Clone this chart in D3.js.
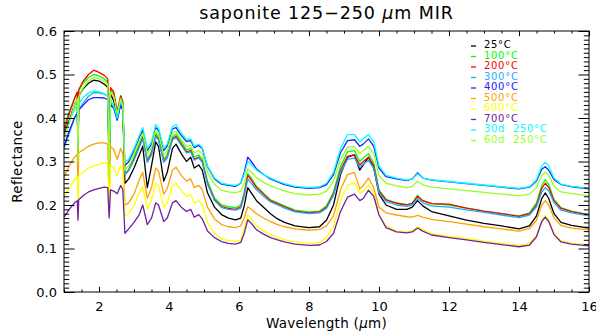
<!DOCTYPE html>
<html><head><meta charset="utf-8">
<script src="https://cdn.jsdelivr.net/npm/d3@7"></script>
<style>
html,body{margin:0;padding:0;background:#fff;}
svg{display:block;}
text{font-family:"DejaVu Sans",sans-serif;}
</style></head>
<body>
<svg id="chart" width="596" height="335"></svg>
<script>
// ---- data ----
const wavelength = [1.00,1.15,1.30,1.38,1.40,1.42,1.55,1.70,1.85,2.00,2.15,2.25,2.29,2.33,2.42,2.52,2.62,2.68,2.74,2.85,3.00,3.15,3.25,3.38,3.50,3.62,3.70,3.85,3.95,4.10,4.20,4.35,4.50,4.62,4.72,4.85,4.95,5.10,5.30,5.50,5.70,5.90,6.05,6.15,6.25,6.35,6.50,6.70,6.90,7.10,7.30,7.60,8.00,8.30,8.50,8.70,8.90,9.10,9.30,9.45,9.55,9.70,9.85,10.00,10.20,10.50,10.80,10.95,11.10,11.25,11.50,12.00,12.50,13.00,13.50,14.00,14.30,14.50,14.65,14.75,14.85,15.00,15.20,15.50,16.00];

const r25 = [0.36,0.395,0.43,0.445,0.31,0.45,0.468,0.48,0.487,0.485,0.478,0.47,0.27,0.455,0.44,0.4,0.435,0.42,0.25,0.26,0.285,0.315,0.335,0.24,0.29,0.345,0.335,0.255,0.275,0.33,0.34,0.318,0.3,0.31,0.285,0.292,0.28,0.228,0.195,0.178,0.17,0.166,0.17,0.198,0.24,0.228,0.21,0.195,0.18,0.168,0.16,0.152,0.148,0.15,0.165,0.2,0.27,0.31,0.315,0.28,0.292,0.31,0.285,0.225,0.2,0.19,0.19,0.195,0.21,0.198,0.185,0.175,0.165,0.158,0.152,0.145,0.152,0.175,0.215,0.228,0.215,0.18,0.16,0.153,0.147];
const r100 = [0.38,0.415,0.445,0.458,0.30,0.463,0.48,0.493,0.5,0.497,0.49,0.483,0.24,0.465,0.455,0.41,0.452,0.44,0.27,0.282,0.31,0.34,0.36,0.305,0.322,0.365,0.357,0.305,0.316,0.357,0.363,0.345,0.327,0.33,0.31,0.315,0.305,0.255,0.216,0.2,0.196,0.194,0.2,0.228,0.272,0.262,0.243,0.227,0.212,0.205,0.198,0.188,0.184,0.186,0.198,0.23,0.288,0.322,0.325,0.3,0.308,0.318,0.296,0.235,0.213,0.205,0.201,0.205,0.222,0.21,0.203,0.2,0.193,0.186,0.18,0.175,0.182,0.205,0.245,0.258,0.247,0.213,0.194,0.186,0.178];
const r200 = [0.37,0.41,0.445,0.46,0.32,0.465,0.485,0.5,0.51,0.505,0.498,0.49,0.28,0.47,0.46,0.415,0.45,0.435,0.27,0.28,0.305,0.335,0.355,0.3,0.318,0.36,0.352,0.3,0.31,0.352,0.358,0.34,0.322,0.325,0.305,0.31,0.3,0.25,0.212,0.196,0.192,0.19,0.196,0.225,0.268,0.258,0.24,0.225,0.21,0.203,0.196,0.186,0.182,0.184,0.195,0.225,0.28,0.312,0.315,0.292,0.3,0.31,0.29,0.232,0.212,0.204,0.2,0.204,0.22,0.21,0.203,0.202,0.193,0.186,0.18,0.174,0.18,0.2,0.238,0.25,0.24,0.21,0.192,0.185,0.177];
const r300 = [0.33,0.365,0.4,0.413,0.33,0.418,0.435,0.45,0.458,0.458,0.455,0.45,0.32,0.438,0.428,0.395,0.435,0.42,0.27,0.28,0.303,0.333,0.352,0.298,0.315,0.357,0.35,0.298,0.308,0.35,0.355,0.337,0.32,0.322,0.303,0.308,0.298,0.248,0.21,0.194,0.19,0.188,0.193,0.22,0.26,0.25,0.235,0.22,0.207,0.2,0.193,0.184,0.18,0.182,0.192,0.222,0.275,0.305,0.308,0.287,0.294,0.303,0.284,0.228,0.208,0.2,0.197,0.2,0.215,0.205,0.198,0.195,0.189,0.183,0.177,0.171,0.177,0.196,0.23,0.24,0.232,0.205,0.188,0.182,0.175];
const r400 = [0.335,0.37,0.4,0.412,0.34,0.418,0.43,0.442,0.447,0.447,0.446,0.442,0.33,0.432,0.422,0.395,0.43,0.418,0.29,0.3,0.325,0.355,0.372,0.325,0.34,0.378,0.372,0.325,0.336,0.375,0.378,0.36,0.346,0.348,0.332,0.337,0.33,0.288,0.26,0.248,0.245,0.243,0.25,0.275,0.31,0.3,0.283,0.27,0.26,0.253,0.247,0.241,0.238,0.24,0.247,0.27,0.32,0.348,0.35,0.335,0.34,0.352,0.335,0.285,0.265,0.26,0.256,0.26,0.274,0.262,0.257,0.253,0.249,0.245,0.241,0.237,0.241,0.255,0.282,0.288,0.28,0.258,0.247,0.242,0.237];
const r500 = [0.264,0.29,0.31,0.316,0.24,0.32,0.327,0.335,0.34,0.343,0.343,0.34,0.22,0.334,0.328,0.305,0.33,0.318,0.2,0.205,0.225,0.258,0.275,0.215,0.24,0.285,0.278,0.225,0.238,0.28,0.287,0.268,0.255,0.26,0.24,0.245,0.235,0.195,0.168,0.155,0.15,0.148,0.152,0.17,0.196,0.19,0.18,0.17,0.162,0.155,0.15,0.145,0.142,0.144,0.152,0.175,0.235,0.27,0.275,0.237,0.245,0.262,0.24,0.195,0.182,0.177,0.173,0.172,0.176,0.172,0.167,0.162,0.156,0.15,0.145,0.14,0.146,0.165,0.2,0.21,0.2,0.17,0.153,0.147,0.143];
const r600 = [0.218,0.24,0.258,0.265,0.2,0.268,0.276,0.285,0.29,0.294,0.297,0.295,0.19,0.29,0.286,0.268,0.29,0.28,0.175,0.18,0.198,0.228,0.243,0.19,0.21,0.25,0.244,0.195,0.205,0.245,0.25,0.233,0.22,0.224,0.205,0.21,0.2,0.16,0.135,0.122,0.118,0.116,0.12,0.145,0.177,0.168,0.152,0.14,0.132,0.126,0.12,0.115,0.112,0.114,0.125,0.15,0.21,0.245,0.252,0.228,0.232,0.246,0.228,0.178,0.152,0.14,0.138,0.14,0.15,0.144,0.134,0.128,0.123,0.117,0.112,0.107,0.112,0.13,0.165,0.176,0.166,0.135,0.118,0.112,0.108];
const r700 = [0.172,0.19,0.205,0.21,0.165,0.212,0.222,0.23,0.235,0.238,0.241,0.24,0.17,0.235,0.232,0.226,0.245,0.235,0.135,0.145,0.16,0.178,0.2,0.155,0.17,0.205,0.2,0.162,0.17,0.205,0.21,0.195,0.185,0.19,0.172,0.178,0.168,0.14,0.125,0.116,0.112,0.11,0.114,0.135,0.166,0.158,0.143,0.133,0.125,0.12,0.115,0.11,0.107,0.108,0.116,0.135,0.185,0.218,0.225,0.21,0.215,0.234,0.22,0.177,0.148,0.138,0.136,0.138,0.147,0.14,0.131,0.125,0.12,0.114,0.109,0.104,0.108,0.127,0.162,0.172,0.162,0.132,0.115,0.11,0.106];
const r30d = [0.355,0.39,0.42,0.43,0.35,0.433,0.447,0.458,0.462,0.46,0.456,0.45,0.34,0.44,0.428,0.4,0.44,0.425,0.3,0.305,0.33,0.36,0.378,0.33,0.345,0.385,0.378,0.33,0.34,0.38,0.385,0.365,0.35,0.352,0.335,0.34,0.332,0.29,0.262,0.25,0.247,0.245,0.25,0.27,0.3,0.293,0.28,0.27,0.262,0.255,0.249,0.243,0.24,0.242,0.25,0.275,0.33,0.362,0.362,0.345,0.352,0.362,0.345,0.29,0.268,0.262,0.257,0.26,0.272,0.262,0.258,0.254,0.25,0.246,0.242,0.238,0.242,0.258,0.29,0.298,0.29,0.262,0.248,0.243,0.238];
const r60d = [0.35,0.39,0.43,0.445,0.30,0.45,0.47,0.485,0.493,0.49,0.485,0.478,0.26,0.46,0.45,0.41,0.445,0.43,0.28,0.29,0.318,0.347,0.365,0.318,0.332,0.372,0.365,0.315,0.325,0.365,0.37,0.35,0.335,0.337,0.32,0.325,0.317,0.275,0.247,0.234,0.23,0.228,0.232,0.25,0.283,0.276,0.263,0.252,0.244,0.238,0.232,0.226,0.223,0.225,0.232,0.255,0.305,0.333,0.335,0.318,0.325,0.335,0.318,0.268,0.25,0.244,0.24,0.243,0.255,0.246,0.241,0.237,0.233,0.229,0.225,0.221,0.225,0.24,0.268,0.276,0.268,0.243,0.23,0.226,0.221];

const seriesLabels = ["25°C","100°C","200°C","300°C","400°C","500°C","600°C","700°C","30d  250°C","60d  250°C"];
const seriesColors = ["#000000","#00ff00","#ff0000","#1eaaff","#2020ff","#ffa000","#ffff00","#7020a0","#00ffff","#99ff22"];
const xTickValues = [2,4,6,8,10,12,14,16];
const yTickValues = [0.0,0.1,0.2,0.3,0.4,0.5,0.6];
const titleText = "saponite 125\u2212250 ";
const xLabelText = "Wavelength (";
const yLabelText = "Reflectance";

// ---- drawing ----
const allSeries = [r25,r100,r200,r300,r400,r500,r600,r700,r30d,r60d];
const svg = d3.select("#chart");
const L = 64, R = 589, T = 31, B = 292;
const x = d3.scaleLinear().domain([1,16]).range([L,R]);
const y = d3.scaleLinear().domain([0,0.6]).range([B,T]);

const plot = svg.append("g");
plot.append("clipPath").attr("id","clip").append("rect")
  .attr("x",L).attr("y",T).attr("width",R-L).attr("height",B-T);

const line = d3.line().x((d,i)=>x(wavelength[i])).y(d=>y(d));
const lines = plot.append("g").attr("clip-path","url(#clip)");
allSeries.forEach((s,k)=>{
  lines.append("path").datum(s).attr("d",line)
    .attr("fill","none").attr("stroke",seriesColors[k])
    .attr("stroke-width",1.3).attr("stroke-linejoin","round");
});

// axes with inward ticks (major + minor) on all four sides
const xMajorLen = 5.2, xMinorLen = 2.6, yMajorLen = 10.5, yMinorLen = 5.2;
const xMinor = d3.range(1,16.001,0.5).filter(v=>!xTickValues.includes(v));
const yMinor = d3.range(0,0.6001,0.01).map(v=>+v.toFixed(2)).filter(v=>Math.abs(v*10-Math.round(v*10))>1e-6);

const axBottom = d3.axisBottom(x).tickValues(xTickValues).tickSize(-xMajorLen).tickFormat(d3.format("d")).tickPadding(10);
svg.append("g").attr("transform",`translate(0,${B})`).call(axBottom);
svg.append("g").attr("transform",`translate(0,${B})`).call(d3.axisBottom(x).tickValues(xMinor).tickSize(-xMinorLen).tickFormat(""));
svg.append("g").attr("transform",`translate(0,${T})`).call(d3.axisTop(x).tickValues(xTickValues).tickSize(-xMajorLen).tickFormat(""));
svg.append("g").attr("transform",`translate(0,${T})`).call(d3.axisTop(x).tickValues(xMinor).tickSize(-xMinorLen).tickFormat(""));

const axLeft = d3.axisLeft(y).tickValues(yTickValues).tickSize(-yMajorLen).tickFormat(d3.format(".1f")).tickPadding(7);
svg.append("g").attr("transform",`translate(${L},0)`).call(axLeft);
svg.append("g").attr("transform",`translate(${L},0)`).call(d3.axisLeft(y).tickValues(yMinor).tickSize(-yMinorLen).tickFormat(""));
svg.append("g").attr("transform",`translate(${R},0)`).call(d3.axisRight(y).tickValues(yTickValues).tickSize(-yMajorLen).tickFormat(""));
svg.append("g").attr("transform",`translate(${R},0)`).call(d3.axisRight(y).tickValues(yMinor).tickSize(-yMinorLen).tickFormat(""));

svg.selectAll(".domain").remove();
svg.selectAll(".tick line").attr("stroke","#000").attr("stroke-width",1);
svg.selectAll(".tick text").attr("font-size",13).attr("font-family","DejaVu Sans").attr("fill","#000");

svg.append("rect").attr("x",L).attr("y",T).attr("width",R-L).attr("height",B-T)
  .attr("fill","none").attr("stroke","#000").attr("stroke-width",1);

// title
const title = svg.append("text").attr("x",(L+R)/2).attr("y",19).attr("text-anchor","middle")
  .attr("font-size",17.5).attr("letter-spacing",0.9).attr("fill","#000");
title.append("tspan").text(titleText);
title.append("tspan").attr("font-style","italic").text("\u03bc");
title.append("tspan").text("m MIR");

// x label
const xl = svg.append("text").attr("x",(L+R)/2).attr("y",328).attr("text-anchor","middle")
  .attr("font-size",13.5).attr("letter-spacing",0.3).attr("fill","#000");
xl.append("tspan").text(xLabelText);
xl.append("tspan").attr("font-style","italic").text("\u03bc");
xl.append("tspan").text("m)");

// y label
svg.append("text").attr("transform",`translate(22,${(T+B)/2}) rotate(-90)`)
  .attr("text-anchor","middle").attr("font-size",13.5).attr("letter-spacing",0.3).attr("fill","#000").text(yLabelText);

// legend
const lg = svg.append("g");
seriesLabels.forEach((lab,k)=>{
  const cy = 44.5 + k*10.5;
  lg.append("line").attr("x1",471).attr("x2",476).attr("y1",cy+1.5).attr("y2",cy+1.5)
    .attr("stroke",seriesColors[k]).attr("stroke-width",1.3);
  lg.append("text").attr("x",484).attr("y",cy+3.6).attr("font-size",10)
    .attr("letter-spacing",0.7)
    .attr("fill",seriesColors[k]).attr("xml:space","preserve").style("white-space","pre").text(lab);
});
</script>
</body></html>
